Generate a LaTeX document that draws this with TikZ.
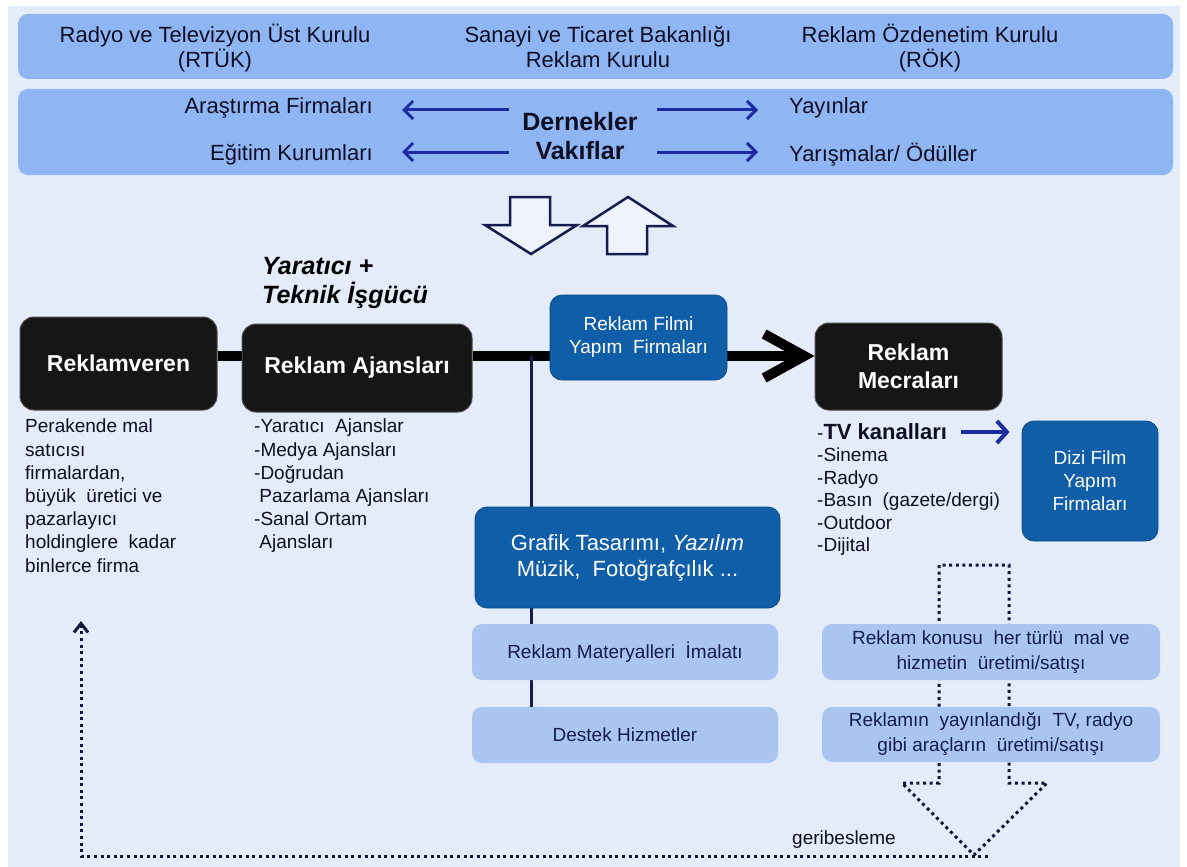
\documentclass[tikz,border=0pt]{standalone}
\usepackage{fontspec}
\setmainfont{Liberation Sans}
\usetikzlibrary{arrows.meta}
\definecolor{bgc}{RGB}{228,236,249}
\definecolor{bandc}{RGB}{143,182,242}
\definecolor{darkbox}{RGB}{22,22,22}
\definecolor{bluebox}{RGB}{16,94,168}
\definecolor{lightbox}{RGB}{170,198,240}
\definecolor{navy}{RGB}{20,28,80}
\definecolor{arrowblue}{RGB}{28,44,160}
\definecolor{dotc}{RGB}{18,22,56}
\definecolor{inktext}{RGB}{14,14,36}
\definecolor{blockfill}{RGB}{238,243,252}
\pgfdeclarelayer{bglayer}
\pgfsetlayers{bglayer,main}
\begin{document}
\begin{tikzpicture}[x=1pt,y=-1pt,
  band/.style={fill=bandc, rounded corners=10pt, draw=none, inner sep=0},
  bandtext/.style={text=inktext, font=\fontsize{22}{25}\selectfont, align=center, inner sep=0},
  blackbox/.style={fill=darkbox, draw=black!70, line width=1pt, rounded corners=14pt, text=white, font=\bfseries\fontsize{23}{28}\selectfont, align=center},
  bluenode/.style={fill=bluebox, draw=bluebox!80!black, line width=0.8pt, rounded corners=12pt, text=white, align=center},
  lightnode/.style={fill=lightbox, draw=none, rounded corners=10pt, text=navy, font=\fontsize{19}{25}\selectfont, align=center},
  listtext/.style={text=inktext, font=\fontsize{19}{23.2}\selectfont, align=left, inner sep=0},
  barrow/.style={draw=arrowblue, line width=3pt, -{Straight Barb[length=9pt,width=18pt,line width=3pt]}},
  mainline/.style={draw=black, line width=10pt},
  vline/.style={draw=navy, line width=3pt},
  dotline/.style={draw=dotc, line width=3pt, dash pattern=on 3pt off 3.6pt},
  blockarrow/.style={draw=navy, line width=2.5pt, fill=blockfill, line join=miter}
]
\useasboundingbox (0,0) rectangle (1187,867);
\begin{pgfonlayer}{bglayer}
\fill[white] (0,0) rectangle (1187,867);
\fill[bgc] (8,6) rectangle (1180,867);
\end{pgfonlayer}

% bands
\node[band, minimum width=1155pt, minimum height=65pt] (band1) at (595.5,46.5) {};
\node[band, minimum width=1155pt, minimum height=86pt] (band2) at (595.5,132) {};
\node[bandtext, anchor=base] (rtuk) at (215,68) {Radyo ve Televizyon Üst Kurulu\\(RTÜK)};
\node[bandtext, anchor=base] (stb) at (598,68) {Sanayi ve Ticaret Bakanlığı\\Reklam Kurulu};
\node[bandtext, anchor=base] (rok) at (930,68) {Reklam Özdenetim Kurulu\\(RÖK)};

\node[bandtext, anchor=east] (ara) at (373,108) {Araştırma Firmaları};
\node[bandtext, anchor=east] (egi) at (373,155) {Eğitim Kurumları};
\node[bandtext, anchor=west] (yay) at (789,108) {Yayınlar};
\node[bandtext, anchor=west] (yar) at (789,155) {Yarışmalar/ Ödüller};
\node[bandtext, font=\bfseries\fontsize{25}{29}\selectfont] (der) at (580,136) {Dernekler\\Vakıflar};
\coordinate (la1) at (509,110);
\coordinate (la2) at (509,152);
\coordinate (ra1) at (657,110);
\coordinate (ra2) at (657,152);
\draw[barrow, shorten >=29pt] (la1) -- (la1 -| ara.east);
\draw[barrow, shorten >=29pt] (la2) -- (la2 -| egi.east);
\draw[barrow, shorten >=31pt] (ra1) -- (ra1 -| yay.west);
\draw[barrow, shorten >=31pt] (ra2) -- (ra2 -| yar.west);

% block arrows
\draw[blockarrow] (510,197) -- (550,197) -- (550,225) -- (577,225) -- (531,254) -- (485,225) -- (510,225) -- cycle;
\draw[blockarrow] (628,197) -- (673,226) -- (647,226) -- (647,254) -- (607,254) -- (607,226) -- (583,226) -- cycle;

% creative label
\node[anchor=west, inner sep=0, align=left, text=black, font=\bfseries\itshape\fontsize{25}{29}\selectfont] (yrt) at (262,283) {Yaratıcı +\\Teknik İşgücü};

% main boxes
\node[blackbox, minimum width=197pt, minimum height=93pt] (rv) at (118.5,363.5) {Reklamveren};
\node[blackbox, minimum width=230pt, minimum height=88pt] (aj) at (357,368) {Reklam Ajansları};
\node[blackbox, minimum width=187pt, minimum height=87pt] (mec) at (908.5,366.5) {Reklam\\Mecraları};
\node[bluenode, font=\fontsize{19}{23}\selectfont, minimum width=177pt, minimum height=85pt] (film) at (638.5,337.5) {Reklam Filmi\\Yapım\ \ Firmaları};
\node[bluenode, font=\fontsize{22}{26}\selectfont, minimum width=305pt, minimum height=101pt] (graf) at (627.5,557.5) {Grafik Tasarımı, \textit{Yazılım}\\Müzik,\ \ Fotoğrafçılık ...};
\node[lightnode, minimum width=306pt, minimum height=56pt] (mat) at (625,652) {Reklam Materyalleri\ \ İmalatı};
\node[lightnode, minimum width=306pt, minimum height=56pt] (des) at (625,735) {Destek Hizmetler};
\node[bluenode, font=\fontsize{19}{23}\selectfont, minimum width=136pt, minimum height=120pt] (dizi) at (1090,481) {Dizi Film\\Yapım\\Firmaları};
\node[lightnode, minimum width=338pt, minimum height=56pt] (mal) at (991,652) {Reklam konusu\ \ her türlü\ \ mal ve\\hizmetin\ \ üretimi/satışı};
\node[lightnode, minimum width=338pt, minimum height=55pt] (arac) at (991,734.5) {Reklamın\ \ yayınlandığı\ \ TV, radyo\\gibi araçların\ \ üretimi/satışı};

% lists
\node[listtext, anchor=north west] (rvlist) at (25,419) {Perakende mal\\satıcısı\\firmalardan,\\büyük\ \ üretici ve\\pazarlayıcı\\holdinglere\ \ kadar\\binlerce firma};
\node[listtext, anchor=north west] (ajlist) at (254,419) {-Yaratıcı\ \ Ajanslar\\-Medya Ajansları\\-Doğrudan\\\ Pazarlama Ajansları\\-Sanal Ortam\\\ Ajansları};
\node[listtext, anchor=west] (tv) at (817,432) {-\textbf{\fontsize{22}{23}\selectfont TV kanalları}};
\node[listtext, anchor=north west, font=\fontsize{19}{22.5}\selectfont] (meclist) at (817,448) {-Sinema\\-Radyo\\-Basın\ \ (gazete/dergi)\\-Outdoor\\-Dijital};
\draw[draw=arrowblue, line width=4pt, -{Straight Barb[length=10pt,width=22pt,line width=4pt]}, shorten <=14pt, shorten >=12pt] (tv.east) -- (tv.east -| dizi.west);

\node[text=inktext, anchor=west, inner sep=0, font=\fontsize{19}{23}\selectfont] (geri) at (792,840) {geribesleme};

% connectors behind
\coordinate (jn) at (531,356);
\coordinate (fbs) at (988,856);
\coordinate (fbc) at (81,856);
\coordinate (fbe) at (81,621);
\begin{pgfonlayer}{bglayer}
\draw[mainline] (rv.east |- jn) -- (aj.west |- jn);
\draw[mainline, -{Straight Barb[length=40pt,width=44pt,line width=10pt]}] (aj.east |- jn) -- (mec.west |- jn);
\draw[vline] (jn) -- (jn |- des.north);
\draw[dotline] (939,565) -- (939,783) -- (902,783) -- (974,855) -- (1047,783) -- (1009,783) -- (1009,565) -- cycle;
\draw[dotline, -{Straight Barb[length=9pt,width=14pt,line width=3pt]}] (fbs) -- (fbc) -- (fbe);
\end{pgfonlayer}
\end{tikzpicture}
\end{document}
